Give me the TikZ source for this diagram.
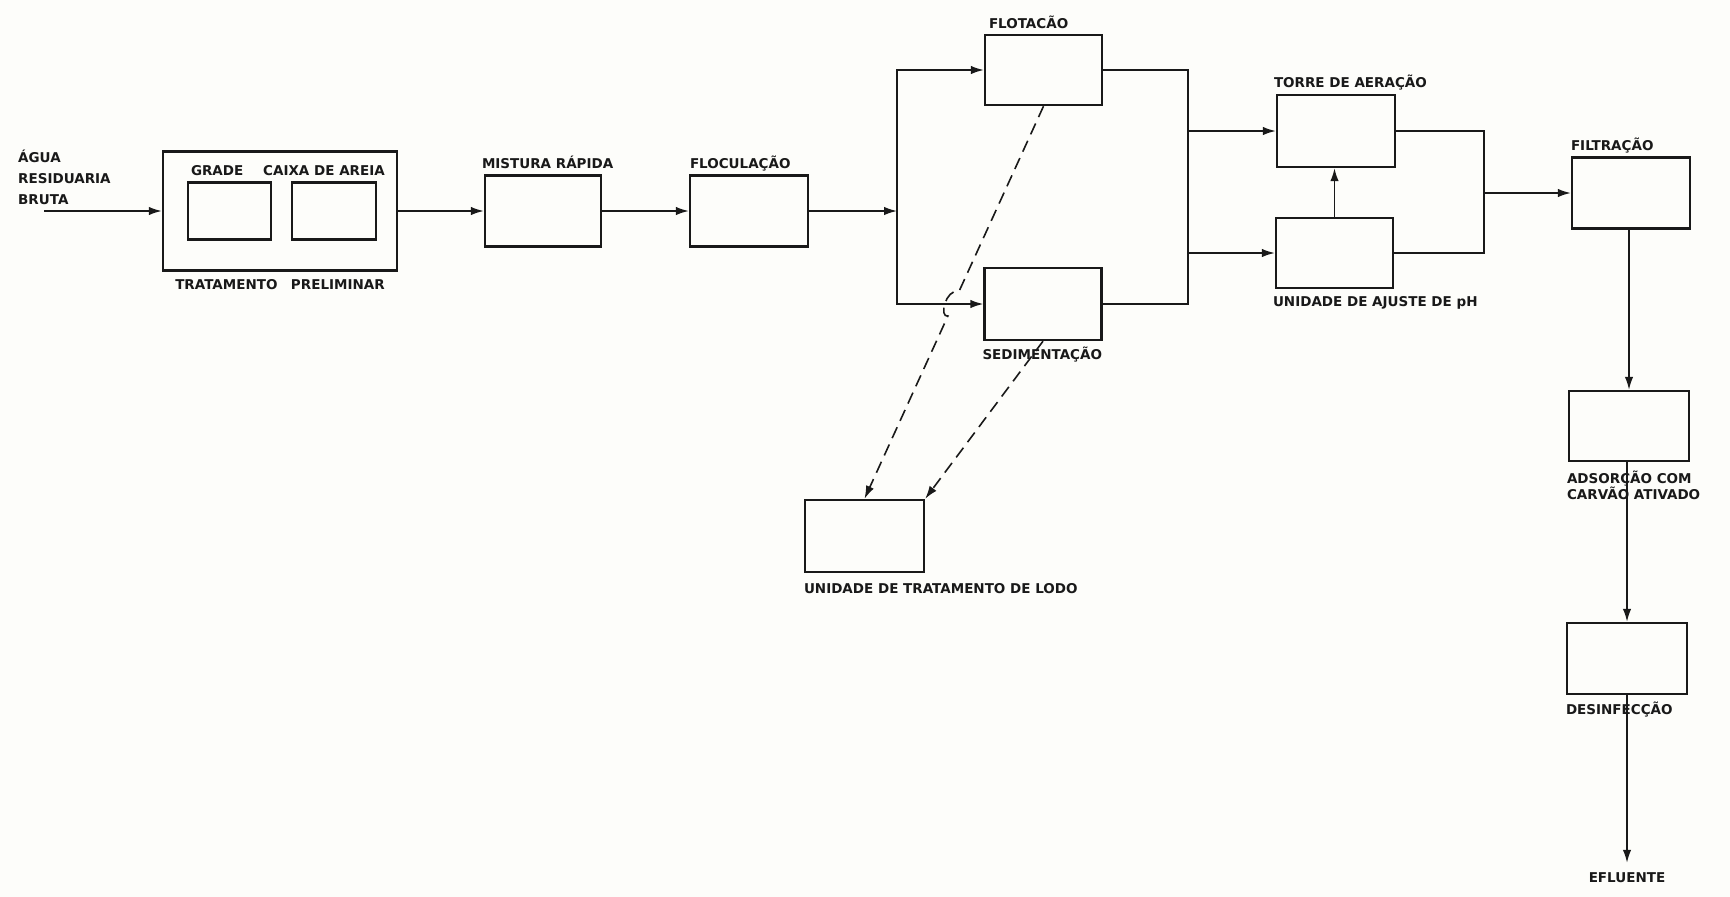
\documentclass[tikz,border=0pt]{standalone}
\usepackage{fontspec}
\newfontfamily\lblfont{DejaVu Sans}
\usetikzlibrary{arrows.meta,positioning}
\definecolor{Ink}{RGB}{25,25,25}
\definecolor{Paper}{RGB}{253,253,250}
\tikzset{
  unit/.style={draw=Ink,line width=2.4pt,minimum width=117pt,minimum height=71pt,inner sep=0pt},
  tag/.style={font=\lblfont\bfseries\fontsize{13.5}{15}\selectfont,text=Ink,inner sep=0pt,
              text height=10pt,text depth=0pt},
  note/.style={font=\lblfont\bfseries\fontsize{13.5}{15}\selectfont,text=Ink,inner sep=0pt,align=left},
  flow/.style={-{Latex[length=13pt,width=8.5pt]},line width=1.6pt,Ink},
  pipe/.style={line width=1.6pt,Ink},
  sludge/.style={-{Latex[length=13pt,width=8.5pt]},line width=1.6pt,Ink,dash pattern=on 12pt off 7pt},
}
\begin{document}
\begin{tikzpicture}[x=1pt,y=-1pt]
  \fill[Paper] (0,0) rectangle (1730,897);
  \useasboundingbox (0,0) rectangle (1730,897);

  % tratamento preliminar
  \node[note,anchor=north west,font=\lblfont\bfseries\fontsize{13.5}{21}\selectfont] (raw) at (18,150) {ÁGUA\\RESIDUARIA\\BRUTA};
  \coordinate (inlet) at (44,211);
  \node[unit,minimum width=234pt,minimum height=119pt] (tp) at (280,211) {};
  \node[unit,minimum width=83pt,minimum height=57pt] (grade) at (229.5,211) {};
  \node[unit,minimum width=84pt,minimum height=57pt] (caixa) at (334,211) {};
  \node[tag,above right=5.5pt and 4pt of grade.north west] {GRADE};
  \node[tag,above=5.5pt of caixa,xshift=-10pt] {CAIXA DE AREIA};
  \node[tag,below=7.5pt of tp] {TRATAMENTO\quad PRELIMINAR};

  % coagulacao / floculacao
  \node[unit,minimum width=116pt] (mist) at (543,211) {};
  \node[unit,minimum width=118pt] (floc) at (749,211) {};
  \node[tag,above right=6pt and -2pt of mist.north west] {MISTURA RÁPIDA};
  \node[tag,above right=5.5pt and 1pt of floc.north west] {FLOCULAÇÃO};

  % separacao
  \coordinate (split) at (897,211);
  \node[unit,minimum height=70pt] (flot) at (1043.5,70) {};
  \node[unit,minimum height=72pt] (sed) at (1043,304) {};
  \node[tag,above right=5pt and 5pt of flot.north west] {FLOTACÃO};
  \node[tag,below right=8pt and -1pt of sed.south west] {SEDIMENTAÇÃO};
  \coordinate (join) at (1188,192);

  % lodo
  \node[unit,minimum width=119pt,minimum height=72pt] (lodo) at (864.5,536) {};
  \node[tag,below right=10pt and 0pt of lodo.south west] {UNIDADE DE TRATAMENTO DE LODO};
  \coordinate (hopA) at (959.2,291);
  \coordinate (hopB) at (947.9,316);

  % aeracao / pH
  \node[unit,minimum width=118pt,minimum height=72pt] (torre) at (1336,131) {};
  \node[unit,minimum height=70pt] (ph) at (1334.5,253) {};
  \node[tag,above right=6pt and -2pt of torre.north west] {TORRE DE AERAÇÃO};
  \node[tag,below right=7pt and -2pt of ph.south west] {UNIDADE DE AJUSTE DE pH};
  \coordinate (join2) at (1484,193);

  % polimento
  \node[unit,minimum width=118pt] (filt) at (1631,193) {};
  \node[unit,minimum width=120pt,minimum height=70pt] (ads) at (1629,426) {};
  \node[unit,minimum width=120pt] (des) at (1627,658.5) {};
  \node[tag,above right=5.5pt and 0pt of filt.north west] {FILTRAÇÃO};
  \node[note,below right=8.5pt and -1pt of ads.south west] {ADSORÇÃO COM\\CARVÃO ATIVADO};
  \node[tag,below right=9pt and 0pt of des.south west] {DESINFECÇÃO};
  \node[tag] (effl) at (1627,877) {EFLUENTE};
  \coordinate[above=9pt of effl.north] (outlet);

  % connections
  \draw[flow] (inlet) -- (tp.west);
  \draw[flow] (tp.east) -- (mist.west);
  \draw[flow] (mist.east) -- (floc.west);
  \draw[flow] (floc.east) -- (split);
  \draw[flow] (split) |- (flot.west);
  \draw[flow] (split) |- (sed.west);
  \draw[pipe] (flot.east) -| (join) |- (sed.east);
  \draw[flow] (join |- torre.west) -- (torre.west);
  \draw[flow] (join |- ph.west) -- (ph.west);
  \draw[flow] (ph.north) -- (ph.north |- torre.south);
  \draw[pipe] (torre.east) -| (join2) |- (ph.east);
  \draw[flow] (join2) -- (filt.west);
  \draw[flow] (ads.north |- filt.south) -- (ads.north);
  \draw[flow] (des.north |- ads.south) -- (des.north);
  \draw[flow] (des.south) -- (outlet);
  \draw[sludge] (flot.south) -- (hopA) .. controls (945,289) and (939,318) .. (hopB) -- (lodo.north);
  \draw[sludge] (sed.south) -- (lodo.north east);
\end{tikzpicture}
\end{document}
